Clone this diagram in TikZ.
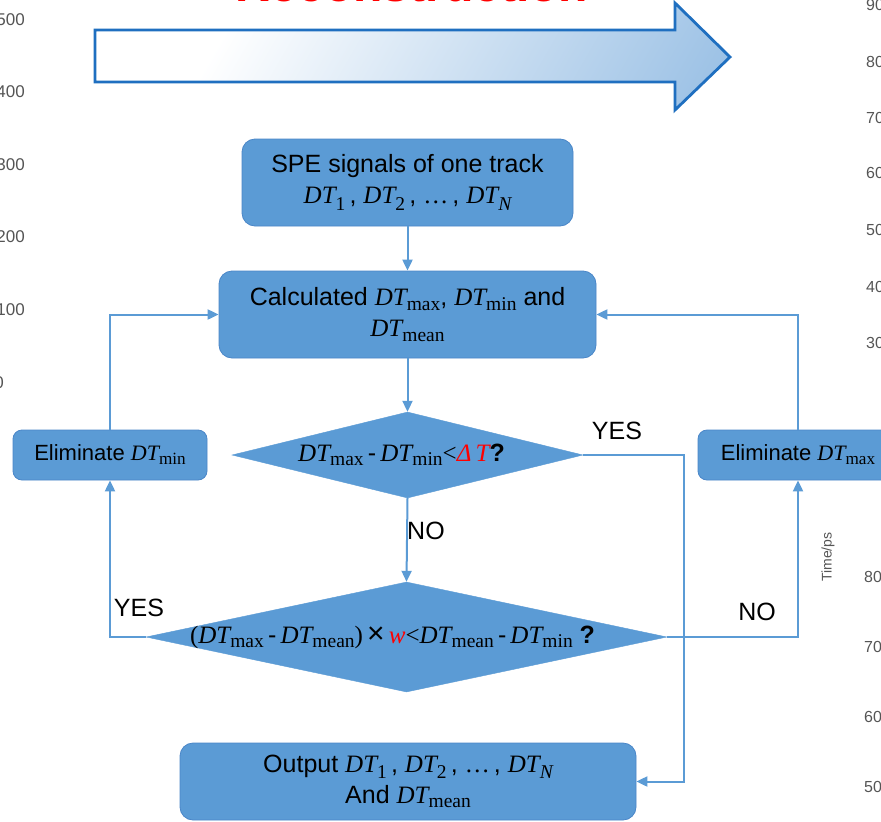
\documentclass[tikz,border=0pt]{standalone}
\usepackage{fontspec}
\setmainfont{Liberation Sans}
\newfontfamily\dtfont{Liberation Serif}
\usetikzlibrary{shapes.geometric,arrows.meta}
\definecolor{boxblue}{HTML}{5B9BD5}
\definecolor{boxedge}{HTML}{4A86C8}
\definecolor{arrowedge}{HTML}{1F6FC0}
\definecolor{arrowend}{HTML}{78ABDC}
\definecolor{tickgray}{HTML}{555555}
\makeatletter
\newcommand\subsize{\dimen@=\f@size pt\dimen@=0.78\dimen@\fontsize{\strip@pt\dimen@}{0}\selectfont}
\makeatother
\newcommand{\DT}{{\dtfont\itshape DT}}
\newcommand{\dtsub}[1]{\DT\raisebox{-0.18em}{\dtfont\subsize #1}}
\newcommand{\dti}[1]{\DT\raisebox{-0.25em}{\dtfont\subsize #1}}
\newcommand{\dtN}{\DT\raisebox{-0.25em}{\dtfont\itshape\subsize N}}
\newcommand{\dtlist}{\dti{1}\,, \dti{2}\,, {\dtfont …}\,, \dtN}
\pgfdeclarehorizontalshading{arrowsh}{100bp}{color(0bp)=(white); color(30bp)=(white); color(100bp)=(arrowend)}
\begin{document}
\begin{tikzpicture}[x=1pt,y=-1pt,
  flowbox/.style={draw=boxedge, line width=0.8pt, fill=boxblue, rounded corners=13pt,
    align=center, font=\fontsize{25}{31}\selectfont, inner sep=0pt},
  elimbox/.style={flowbox, rounded corners=9pt, font=\fontsize{22}{26}\selectfont},
  decision/.style={diamond, draw=boxblue, fill=boxblue, inner sep=0pt},
  link/.style={draw=boxblue, line width=2pt, -{Triangle[length=11pt,width=10pt]}},
  lbl/.style={font=\fontsize{25}{30}\selectfont, inner sep=1pt},
  tick/.style={text=tickgray, font=\fontsize{17}{20}\selectfont, inner sep=0pt}]
\path[use as bounding box, clip] (0,0) rectangle (881,822);
\fill[white] (0,0) rectangle (881,822);

% background clutter
\foreach \v/\y in {500/20,400/92,300/165,200/237,100/310}
  \node[tick, anchor=east] at (25,\y) {\v};
\node[tick, anchor=east] at (4,383) {0};
\foreach \v/\y in {90/5,80/62,70/118,60/173,50/230,40/287,30/343}
  \node[tick, anchor=west, font=\fontsize{16}{18}\selectfont] at (866,\y) {\v};
\foreach \v/\y in {80/577,70/647,60/717,50/787}
  \node[tick, anchor=west, font=\fontsize{16}{18}\selectfont] at (864,\y) {\v};
\node[tick, rotate=90, font=\fontsize{14}{16}\selectfont] at (828,557) {Time/ps};
\node[text=red, font=\bfseries\fontsize{48}{50}\selectfont, anchor=base, inner sep=0pt] at (412,1.5) {Reconstruction};

% big arrow
\path[draw=arrowedge, line width=2.8pt, shading=arrowsh, shading angle=-30]
  (95,30) -- (675,30) -- (675,3) -- (730,57) -- (675,110) -- (675,82) -- (95,82) -- cycle;

% nodes
\node[flowbox, minimum width=331, minimum height=87] (spe) at (407.5,182.5)
  {SPE signals of one track\\ \dtlist};
\node[flowbox, minimum width=377, minimum height=87] (calc) at (407.5,314.5)
  {Calculated \dtsub{max}, \dtsub{min} and\\ \dtsub{mean}};
\node[decision, minimum width=351, minimum height=86] (d1) at (407.5,455) {};
\node[lbl, font=\fontsize{25}{30}\selectfont, xshift=-6pt] at (d1)
  {\dtsub{max}\,-\,\dtsub{min}{\dtfont <}{\color{red}\dtfont\itshape Δ\,T}\textbf{?}};
\node[elimbox, minimum width=194, minimum height=50] (emin) at (110,455) {Eliminate \dtsub{min}};
\node[elimbox, minimum width=200, minimum height=50] (emax) at (798,455) {Eliminate \dtsub{max}};
\node[decision, minimum width=521, minimum height=110] (d2) at (406.5,637) {};
\node[lbl, xshift=-14pt] at (d2)
  {{\dtfont(}\dtsub{max}\,-\,\dtsub{mean}{\dtfont)}\,{\fontsize{30}{30}\selectfont ×}\,{\color{red}\dtfont\itshape w}{\dtfont <}\dtsub{mean}\,-\,\dtsub{min}\;\textbf{?}};
\node[flowbox, minimum width=456, minimum height=77] (out) at (408,781.5)
  {Output \dtlist\\ And \dtsub{mean}};

% connectors
\coordinate (yesr) at (684,455);
\draw[link] (spe.south) -- (calc.north);
\draw[link] (calc.south) -- (d1.north);
\draw[link] (d1.south) -- (d2.north);
\draw[link] (d1.east) -- (yesr) |- (out.east);
\draw[link] (d2.west) -| (emin.south);
\draw[link] (emin.north) |- (calc.west);
\draw[link] (d2.east) -| (emax.south);
\draw[link] (emax.north) |- (calc.east);

% labels
\node[lbl, anchor=west] at (406,531) {NO};
\node[lbl] at (617,431) {YES};
\node[lbl] at (139,608) {YES};
\node[lbl] at (757,612) {NO};
\end{tikzpicture}
\end{document}
